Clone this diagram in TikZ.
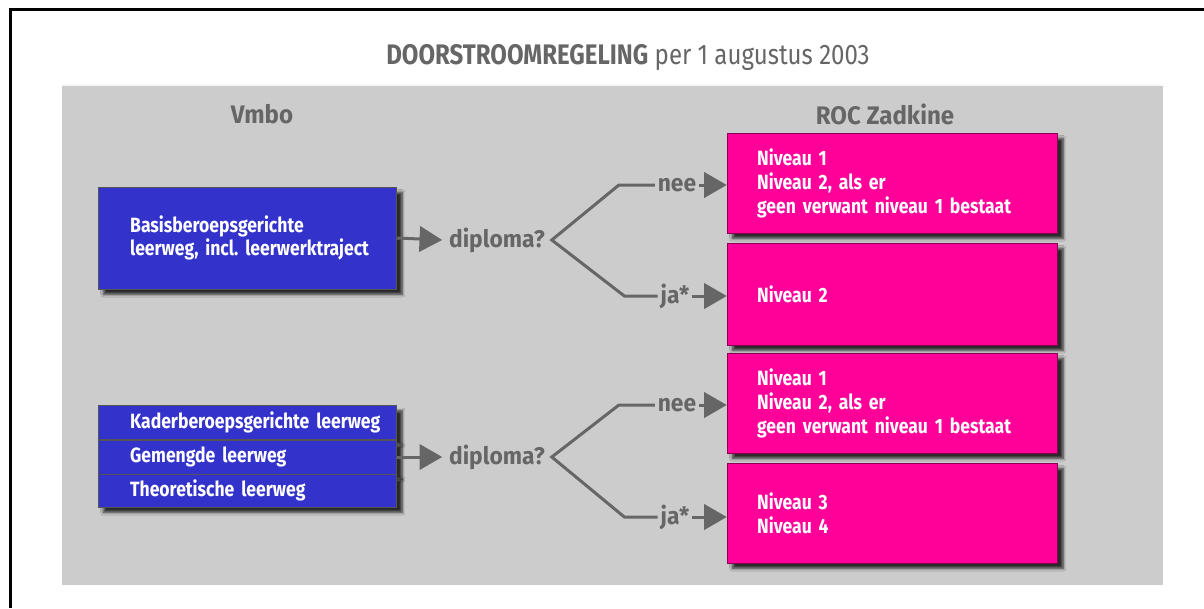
\documentclass[tikz,border=0pt]{standalone}
\usepackage{fontspec}
\setmainfont{Fira Sans}[FakeStretch=0.85]
\newfontfamily\breed{Fira Sans}[FakeStretch=0.95]
\usepackage{tikz}
\usetikzlibrary{arrows.meta, shadows.blur}
\definecolor{vmboblue}{RGB}{51,51,204}
\definecolor{rocpink}{RGB}{255,0,153}
\definecolor{panelgray}{RGB}{204,204,204}
\definecolor{textgray}{RGB}{102,102,102}
\definecolor{edgegray}{RGB}{85,85,85}

\begin{document}
\begin{tikzpicture}[x=0.75pt, y=-0.75pt, >={Triangle[length=17pt, width=19pt]},
  schaduw/.style={blur shadow={shadow xshift=4pt, shadow yshift=-4pt,
                  shadow blur steps=6, shadow opacity=80}},
  vmbo/.style={schaduw, fill=vmboblue, draw=edgegray, line width=0.6pt, text=white,
               font=\fontsize{15.5}{17}\selectfont\bfseries, inner xsep=0pt,
               text width=224pt, align=left, execute at begin node={\leftskip=24pt}},
  rij/.style={vmbo, minimum height=25.5pt},
  roc/.style={schaduw, fill=rocpink, draw=rocpink!55!black, line width=0.6pt, text=white,
              font=\fontsize{15.5}{18}\selectfont\bfseries, inner xsep=22.5pt,
              text width=203pt, align=left, minimum height=75pt},
  kop/.style={font=\breed\fontsize{19}{21}\selectfont\bfseries, text=textgray},
  vraag/.style={font=\breed\fontsize{18}{20}\selectfont\bfseries, text=textgray, inner xsep=5pt},
  keuze/.style={font=\breed\fontsize{18}{20}\selectfont\bfseries, text=textgray, inner xsep=2pt},
  tak/.style={draw=textgray, line width=2.25pt},
  pijl/.style={draw=textgray, fill=textgray, line width=2.25pt, ->}]
  \useasboundingbox (0,0) rectangle (1204,608);
  % frame and panel
  \draw[line width=2.25pt] (10,608) -- (10,9) -- (1204,9);
  \fill[panelgray] (62,85) rectangle (1163,585);
  \draw[white!85!panelgray, line width=1.2pt] (62,85) -- (1163,85);
  \node[font=\fontsize{21.2}{23}\selectfont, text=textgray] (titel) at (628,57)
    {\textbf{DOORSTROOMREGELING} per 1 augustus 2003};
  \node[kop] (vmbokop) at (262,114) {Vmbo};
  \node[kop] (rockop) at (885,114) {ROC Zadkine};
  % Vmbo side
  \node[vmbo, minimum height=76.5pt] (basis) at (247.5,238)
    {Basisberoepsgerichte\\leerweg, incl.\ leerwerktraject};
  \node[rij] (kader) at (247.5,422.5) {Kaderberoepsgerichte leerweg};
  \node[rij] (gemengd) at (247.5,457) {Gemengde leerweg};
  \node[rij, minimum height=24.75pt] (theo) at (247.5,490.5) {Theoretische leerweg};
  % ROC side
  \node[roc] (roc1) at (892.5,183) {Niveau 1\\Niveau 2, als er\\geen verwant niveau 1 bestaat};
  \node[roc, minimum height=76.5pt] (roc2) at (892.5,294) {Niveau 2};
  \node[roc] (roc3) at (892.5,403) {Niveau 1\\Niveau 2, als er\\geen verwant niveau 1 bestaat};
  \node[roc] (roc4) at (892.5,513) {Niveau 3\\Niveau 4};
  % questions
  \node[vraag] (dip1) at (497,240) {diploma?};
  \node[vraag] (dip2) at (497,457) {diploma?};
  \node[keuze] (nee1) at (677,185) {nee};
  \node[keuze] (ja1) at (675,296) {ja*};
  \node[keuze] (nee2) at (677,405) {nee};
  \node[keuze] (ja2) at (675,517) {ja*};
  % connectors
  \draw[pijl] (basis.east) -- (dip1.west);
  \draw[pijl] (gemengd.east) -- (dip2.west);
  \draw[tak] (nee1.west) -- ([xshift=-27pt]nee1.west) -- (dip1.east)
    -- ([xshift=-25pt]ja1.west) -- (ja1.west);
  \draw[tak] (nee2.west) -- ([xshift=-27pt]nee2.west) -- (dip2.east)
    -- ([xshift=-25pt]ja2.west) -- (ja2.west);
  \draw[pijl] (nee1.east) -- (nee1.east -| roc1.west);
  \draw[pijl] (ja1.east) -- (ja1.east -| roc2.west);
  \draw[pijl] (nee2.east) -- (nee2.east -| roc3.west);
  \draw[pijl] (ja2.east) -- (ja2.east -| roc4.west);
\end{tikzpicture}
\end{document}
